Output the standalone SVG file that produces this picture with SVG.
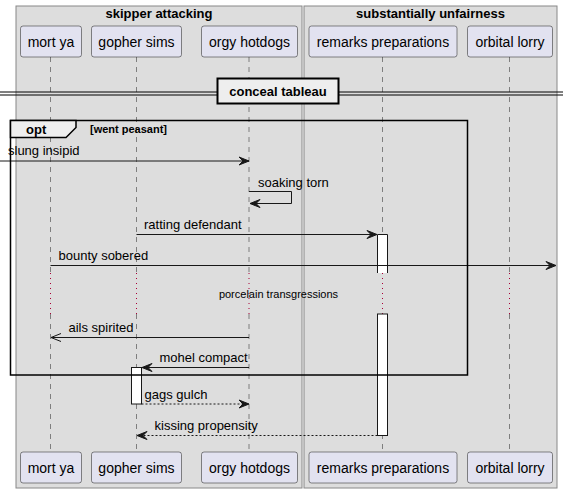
<svg xmlns="http://www.w3.org/2000/svg" width="563" height="493" viewBox="0 0 563 493">
<style>
text{font-family:"Liberation Sans",Arial,sans-serif;fill:#000}
.box{fill:#DDDDDD;stroke:#888888;stroke-width:1}
.bt{font-size:13px;font-weight:bold;text-anchor:middle}
.p rect{fill:#E2E2F0;stroke:#181818;stroke-width:0.5}
.p text{font-size:14px;text-anchor:middle}
.life{stroke:#555555;stroke-width:0.7;stroke-dasharray:5,5;fill:none}
.delay{stroke:#A80036;stroke-width:1;stroke-dasharray:1,4;fill:none}
.msg{stroke:#181818;stroke-width:1;fill:none}
.dash{stroke-dasharray:2,2}
.ml{font-size:13px}
.act{fill:#FFFFFF;stroke:#181818;stroke-width:1}
</style>
<defs>
<marker id="fa" viewBox="0 0 12 10" refX="11" refY="5" markerWidth="12" markerHeight="10" markerUnits="userSpaceOnUse" orient="auto">
<polygon points="1,1 11,5 1,9 5,5" fill="#181818" stroke="#181818" stroke-width="1"/>
</marker>
<marker id="oa" viewBox="0 0 12 10" refX="11" refY="5" markerWidth="12" markerHeight="10" markerUnits="userSpaceOnUse" orient="auto">
<polyline points="1,1 11,5 1,9" fill="none" stroke="#181818" stroke-width="1"/>
</marker>
</defs>
<rect width="563" height="493" fill="#FFFFFF"/>
<g id="box-skipper-attacking">
<rect class="box" x="16" y="6" width="286" height="482"/>
<text class="bt" x="159" y="18">skipper attacking</text>
</g>
<g id="box-substantially-unfairness">
<rect class="box" x="304" y="6" width="253" height="482"/>
<text class="bt" x="430.5" y="18">substantially unfairness</text>
</g>
<g id="lifelines">
<path class="life" d="M50.5,57V273M50.5,314V452"/>
<path class="life" d="M136.5,57V273M136.5,314V452"/>
<path class="life" d="M249,57V273M249,314V452"/>
<path class="life" d="M382.5,57V273M382.5,314V452"/>
<path class="life" d="M509.5,57V273M509.5,314V452"/>
</g>
<g id="delay">
<line class="delay" x1="50.5" y1="273" x2="50.5" y2="314"/>
<line class="delay" x1="136.5" y1="273" x2="136.5" y2="314"/>
<line class="delay" x1="249" y1="273" x2="249" y2="314"/>
<line class="delay" x1="382.5" y1="273" x2="382.5" y2="314"/>
<line class="delay" x1="509.5" y1="273" x2="509.5" y2="314"/>
<text x="278.5" y="298" font-size="11" text-anchor="middle">porcelain transgressions</text>
</g>
<g id="divider">
<line x1="0" y1="92" x2="563" y2="92" stroke="#000" stroke-width="1"/>
<line x1="0" y1="95" x2="563" y2="95" stroke="#000" stroke-width="1"/>
<rect x="217.5" y="78.5" width="121" height="25" fill="#EEEEEE" stroke="#000" stroke-width="2"/>
<text x="278" y="96" font-size="13" font-weight="bold" text-anchor="middle">conceal tableau</text>
</g>
<g id="activations">
<path d="M377.5,273V234.5H387.5V273" class="act"/>
<rect class="act" x="377.5" y="314" width="10" height="121.5"/>
<rect class="act" x="131.5" y="367.5" width="10" height="36.5"/>
</g>
<g id="connectors">
<line class="msg" x1="0" y1="161" x2="249" y2="161" marker-end="url(#fa)"/>
<text class="ml" x="8" y="155">slung insipid</text>
<polyline class="msg" points="249,191.5 291.5,191.5 291.5,203.5 250,203.5" marker-end="url(#fa)"/>
<text class="ml" x="258" y="187">soaking torn</text>
<line class="msg" x1="136.5" y1="234.5" x2="377" y2="234.5" marker-end="url(#fa)"/>
<text class="ml" x="144" y="229">ratting defendant</text>
<line class="msg" x1="50.5" y1="265.5" x2="556" y2="265.5" marker-end="url(#fa)"/>
<text class="ml" x="58.5" y="260">bounty sobered</text>
<line class="msg" x1="249" y1="337.5" x2="51" y2="337.5" marker-end="url(#oa)"/>
<text class="ml" x="68.5" y="332">ails spirited</text>
<line class="msg" x1="249" y1="367.5" x2="142" y2="367.5" marker-end="url(#fa)"/>
<text class="ml" x="159.5" y="362">mohel compact</text>
<line class="msg dash" x1="141.5" y1="404" x2="249" y2="404" marker-end="url(#fa)"/>
<text class="ml" x="144.5" y="399">gags gulch</text>
<line class="msg dash" x1="377.5" y1="435.5" x2="137" y2="435.5" marker-end="url(#fa)"/>
<text class="ml" x="154.5" y="430">kissing propensity</text>
</g>
<g id="frame-opt">
<rect x="10.5" y="120.5" width="457" height="254.5" fill="none" stroke="#000" stroke-width="1.5"/>
<polygon points="10.5,120.5 76,120.5 76,127.5 66,137.5 10.5,137.5" fill="#EEEEEE" stroke="#000" stroke-width="1.5"/>
<text x="26" y="134" font-size="13" font-weight="bold">opt</text>
<text x="90" y="133" font-size="11" font-weight="bold">[went peasant]</text>
</g>
<g id="p-mort-ya" class="p">
<rect x="20.5" y="26" width="61" height="31" rx="2.5"/>
<text x="51" y="46.5">mort ya</text>
<rect x="20.5" y="452" width="61" height="31" rx="2.5"/>
<text x="51" y="472.5">mort ya</text>
</g>
<g id="p-gopher-sims" class="p">
<rect x="91.5" y="26" width="90" height="31" rx="2.5"/>
<text x="136.5" y="46.5">gopher sims</text>
<rect x="91.5" y="452" width="90" height="31" rx="2.5"/>
<text x="136.5" y="472.5">gopher sims</text>
</g>
<g id="p-orgy-hotdogs" class="p">
<rect x="201.5" y="26" width="96" height="31" rx="2.5"/>
<text x="249.5" y="46.5">orgy hotdogs</text>
<rect x="201.5" y="452" width="96" height="31" rx="2.5"/>
<text x="249.5" y="472.5">orgy hotdogs</text>
</g>
<g id="p-remarks-preparations" class="p">
<rect x="309" y="26" width="148" height="31" rx="2.5"/>
<text x="383" y="46.5">remarks preparations</text>
<rect x="309" y="452" width="148" height="31" rx="2.5"/>
<text x="383" y="472.5">remarks preparations</text>
</g>
<g id="p-orbital-lorry" class="p">
<rect x="467.5" y="26" width="85" height="31" rx="2.5"/>
<text x="510" y="46.5">orbital lorry</text>
<rect x="467.5" y="452" width="85" height="31" rx="2.5"/>
<text x="510" y="472.5">orbital lorry</text>
</g>
</svg>
